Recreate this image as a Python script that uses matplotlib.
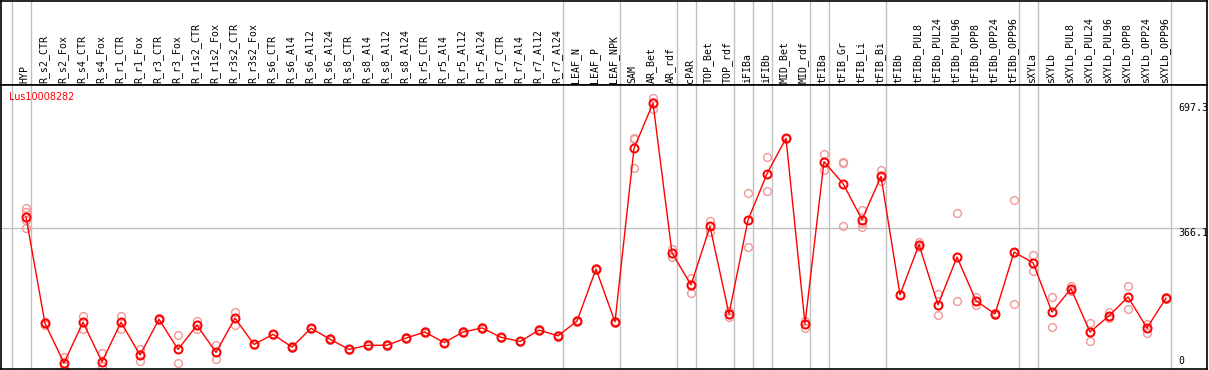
import numpy as np
import matplotlib
matplotlib.use("Agg")
import matplotlib.pyplot as plt
import matplotlib.transforms as mtransforms

# Column names (samples)
muestras = ["HYP", "R_s2_CTR", "R_s2_Fox", "R_s4_CTR", "R_s4_Fox", "R_r1_CTR", "R_r1_Fox",
            "R_r3_CTR", "R_r3_Fox", "R_r1s2_CTR", "R_r1s2_Fox", "R_r3s2_CTR", "R_r3s2_Fox",
            "R_s6_CTR", "R_s6_Al4", "R_s6_Al12", "R_s6_Al24", "R_s8_CTR", "R_s8_Al4",
            "R_s8_Al12", "R_s8_Al24", "R_r5_CTR", "R_r5_Al4", "R_r5_Al12", "R_r5_Al24",
            "R_r7_CTR", "R_r7_Al4", "R_r7_Al12", "R_r7_Al24", "LEAF_N", "LEAF_P", "LEAF_NPK",
            "SAM", "AR_Bet", "AR_rdf", "cPAR", "TOP_Bet", "TOP_rdf", "iFIBa", "iFIBb",
            "MID_Bet", "MID_rdf", "tFIBa", "tFIB_Gr", "tFIB_Li", "tFIB_Bi", "tFIBb",
            "tFIBb_PUL8", "tFIBb_PUL24", "tFIBb_PUL96", "tFIBb_OPP8", "tFIBb_OPP24",
            "tFIBb_OPP96", "sXYLa", "sXYLb", "sXYLb_PUL8", "sXYLb_PUL24", "sXYLb_PUL96",
            "sXYLb_OPP8", "sXYLb_OPP24", "sXYLb_OPP96"]

# Mean expression
medias = [395, 113, 8, 116, 11, 116, 29, 124, 44, 108, 36, 127, 57, 84, 50,
          100, 71, 44, 55, 55, 74, 90, 62, 90, 101, 76, 65, 95, 80, 119, 257,
          117, 577, 697.3, 300, 215, 370, 138, 387, 510, 604, 112, 542, 484, 388, 503,
          189, 322, 162, 289, 173, 138, 302, 274, 143, 205, 90, 133, 183, 101, 180]

# Replicates
replicas = [[419, 408, 386, 366], [110, 114, 117], [25, 1, 0], [133, 116, 99], [34, 0, 0],
            [133, 116, 99], [44, 31, 12], [121, 124, 127], [82, 44, 8], [119, 108, 97],
            [55, 36, 18], [144, 127, 110], [55, 57, 59], [82, 84, 86], [48, 50, 52],
            [98, 100, 102], [69, 71, 73], [42, 44, 46], [53, 55, 57], [53, 55, 57],
            [72, 74, 76], [88, 90, 92], [60, 62, 64], [88, 90, 92], [99, 101, 103],
            [74, 76, 78], [63, 65, 67], [93, 95, 97], [78, 80, 82], [117, 119, 121],
            [255, 257, 259], [115, 117, 119], [606, 601, 524], [711, 700, 681],
            [310, 301, 289], [234, 218, 193], [384, 370, 355], [145, 138, 131],
            [459, 387, 316], [555, 510, 464], [602, 604, 606], [120, 112, 100],
            [561, 542, 521], [540, 538, 372], [415, 380, 368], [521, 500, 490],
            [187, 189, 191], [330, 320, 315], [190, 161, 135], [406, 289, 172],
            [184, 173, 162], [136, 138, 140], [441, 300, 165], [295, 274, 253],
            [183, 143, 103], [211, 205, 198], [114, 90, 65], [143, 132, 126],
            [212, 183, 152], [112, 102, 88], [178, 180, 182]]

# Group separators (after these columns)
separadores = [-1, 0, 28, 31, 34, 35, 37, 38, 39, 41, 42, 45, 52, 53, 60]

rojo = "#ff0000"
rosa = "#f09898"
gris = "#c0c0c0"

W, H = 1209, 370
fig = plt.figure(figsize=(W / 100, H / 100), dpi=100)

xmin, xmax = (1 - 26) / 19, (1207 - 26) / 19
ax_top = fig.add_axes([1 / W, 285 / H, 1206 / W, 84.5 / H])
ax = fig.add_axes([1 / W, 1 / H, 1206 / W, 284 / H])

for a in (ax_top, ax):
    a.set_xlim(xmin, xmax)
    a.set_xticks([])
    a.set_yticks([])
    for s in a.spines.values():
        s.set_color("black")
        s.set_linewidth(1.2)
    for sep in separadores:
        a.axvline(sep + 5 / 19, color=gris, lw=1, zorder=0)

ax_top.set_ylim(0, 1)
for i, nombre in enumerate(muestras):
    ax_top.text(i - 0.07, 0.025, nombre, rotation=90, ha="center", va="bottom",
                family="DejaVu Sans Mono", fontsize=7.1)

ax.set_ylim(-8, 745.3)
ax.axhline(366.1, color=gris, lw=1, zorder=0)

x = np.arange(len(muestras))
for i, reps in enumerate(replicas):
    ax.plot([i] * len(reps), reps, linestyle="none", marker="o", ms=5.6,
            mfc="none", mec=rosa, mew=1.0, zorder=2)
ax.plot(x, medias, color=rojo, lw=1, zorder=3)
ax.plot(x, medias, linestyle="none", marker="o", ms=5.8, mfc="none", mec=rojo,
        mew=1.4, zorder=4)

trans = mtransforms.blended_transform_factory(ax.transAxes, ax.transData)
ax.text(0.9765, 697.3, "697.3", transform=trans, ha="left", va="top",
        family="DejaVu Sans Mono", fontsize=7.1)
ax.text(0.9765, 366.1, "366.1", transform=trans, ha="left", va="top",
        family="DejaVu Sans Mono", fontsize=7.1)
ax.text(0.9765, 0, "0", transform=trans, ha="left", va="bottom",
        family="DejaVu Sans Mono", fontsize=7.1)

ax.text(8 / 1206, 0.958, "Lus10008282", transform=ax.transAxes, ha="left",
        va="center", color=rojo, fontsize=6.9)

fig.savefig("out.png", dpi=100)
